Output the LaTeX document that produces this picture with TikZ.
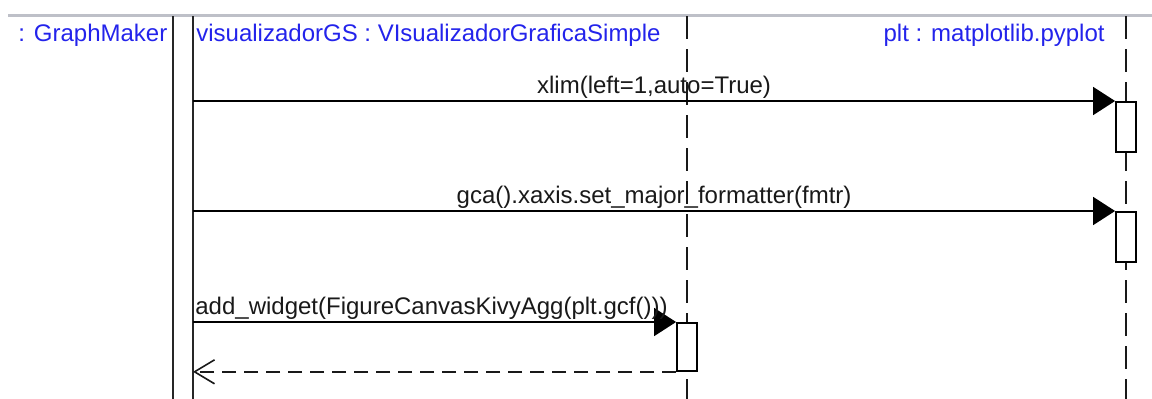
\documentclass[tikz,border=0pt]{standalone}
\usepackage{fontspec}
\setmainfont{Liberation Sans}
\usetikzlibrary{arrows.meta, positioning, calc}

\definecolor{namecol}{RGB}{35,35,235}
\definecolor{framecol}{RGB}{190,192,200}

\begin{document}
\begin{tikzpicture}[x=0.5pt, y=-0.5pt,
  every node/.style={font=\fontsize{12}{14}\selectfont},
  objname/.style={text=namecol, inner sep=0pt},
  msglabel/.style={text=black!90, inner sep=0pt},
  lifeline/.style={draw=black!90, line width=0.8pt, dash pattern=on 11.5pt off 5pt},
  barline/.style={draw=black!85, line width=0.8pt},
  actbox/.style={draw=black, fill=white, line width=0.9pt, minimum width=10pt,
    minimum height=25pt, inner sep=0pt, anchor=north},
  call/.style={draw=black, line width=0.8pt, -{Triangle[length=11pt, width=14pt]}},
  reply/.style={draw=black!90, line width=0.8pt, dash pattern=on 7pt off 4pt,
    -{Straight Barb[length=10pt, width=12pt, line width=0.8pt]}}
]
\useasboundingbox (0,0) rectangle (1152,398);

% frame top
\draw[framecol, line width=1.5pt] (8,15) -- (1152,15);

% object names
\node[objname, anchor=base west] (gmName) at (18,41) {: GraphMaker};
\node[objname, anchor=base west] (vgsName) at (196,41) {visualizadorGS : VIsualizadorGraficaSimple};
\node[objname, anchor=base east] (pltName) at (1105,41) {plt : matplotlib.pyplot};

% lifelines
\coordinate (gmL) at (173,16);
\coordinate (gmR) at (193,16);
\coordinate (vgsTop) at (687,16);
\coordinate (vgsEnd) at (687,400);
\coordinate (pltTop) at (1126,16);
\coordinate (pltEnd) at (1126,400);

\draw[barline] (gmL) -- (gmL |- vgsEnd);
\draw[barline] (gmR) -- (gmR |- vgsEnd);
\draw[lifeline] (vgsTop) -- (vgsEnd);
\draw[lifeline] (pltTop) -- (pltEnd);

% activations
\node[actbox] (act1) at (1126,101) {};
\node[actbox] (act2) at (1126,211) {};
\node[actbox, minimum height=24pt] (act3) at (687,322) {};

% messages
\draw[call] (gmR |- act1.north west) -- (act1.north west);
\node[msglabel, anchor=base] (msg1) at ($(gmR |- act1.north west)!0.5!(act1.north west) + (0,-8)$)
  {xlim(left=1,auto=True)};

\draw[call] (gmR |- act2.north west) -- (act2.north west);
\node[msglabel, anchor=base] (msg2) at ($(gmR |- act2.north west)!0.5!(act2.north west) + (0,-8)$)
  {gca().xaxis.set\_major\_formatter(fmtr)};

\draw[call] (gmR |- act3.north west) -- (act3.north west);
\node[msglabel, anchor=base west] (msg3) at ($(gmR |- act3.north west) + (2,-8)$)
  {add\_widget(FigureCanvasKivyAgg(plt.gcf()))};

\draw[reply] (act3.south west) -- (gmR |- act3.south west);
\end{tikzpicture}
\end{document}
